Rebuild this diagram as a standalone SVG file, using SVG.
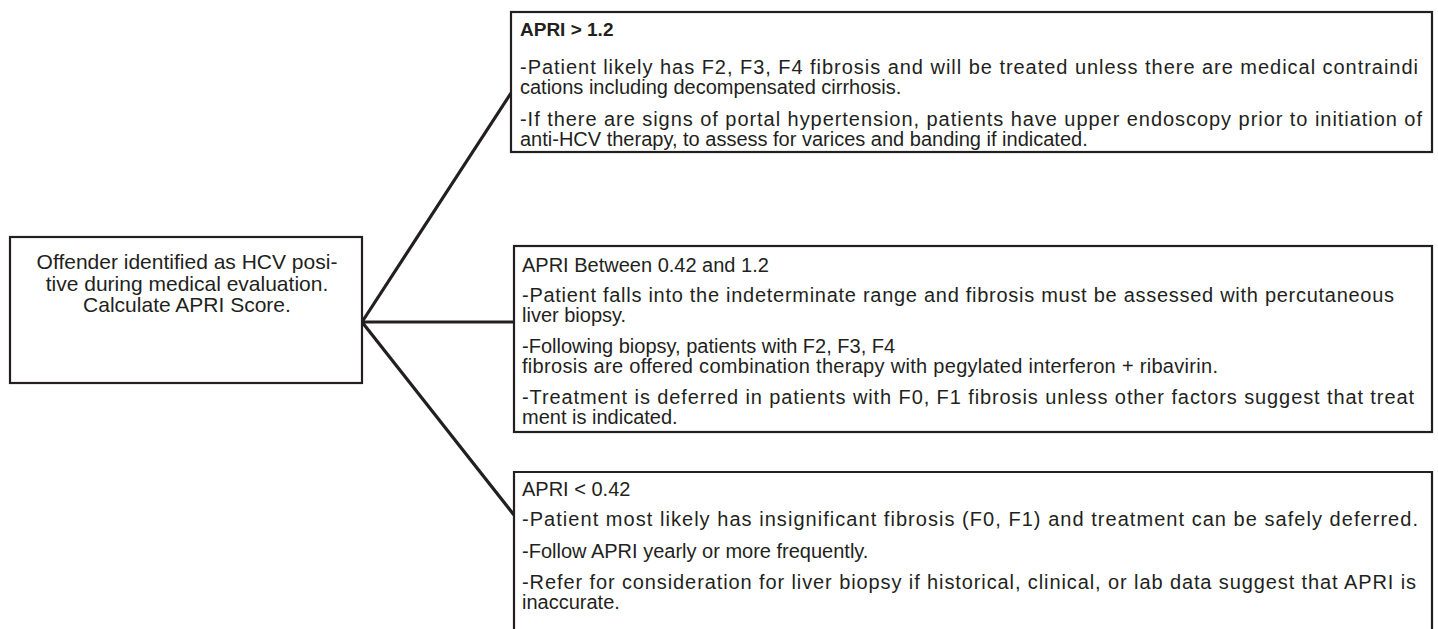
<svg xmlns="http://www.w3.org/2000/svg" width="1438" height="629" viewBox="0 0 1438 629">
<style>
.box{fill:#fff;stroke:#231f20;stroke-width:2.2}
.t{font-family:"Liberation Sans",Arial,sans-serif;font-size:20px;fill:#231f20}
.b{font-weight:bold;font-size:19px}
.c{font-family:"Liberation Sans",Arial,sans-serif;font-size:21px;fill:#231f20;text-anchor:middle}
.conn{stroke:#231f20;stroke-width:3.2;fill:none}
</style>
<rect width="1438" height="629" fill="#fff"/>
<g id="connectors">
<line class="conn" x1="362" y1="322" x2="511" y2="93"/>
<line class="conn" x1="362" y1="322" x2="514" y2="322"/>
<line class="conn" x1="362" y1="322" x2="514" y2="515"/>
</g>
<g id="start">
<rect class="box" x="10" y="237" width="352" height="146"/>
<text class="c" x="187" y="269">Offender identified as HCV posi-</text>
<text class="c" x="187" y="291">tive during medical evaluation.</text>
<text class="c" x="187" y="312">Calculate APRI Score.</text>
</g>
<g id="high">
<rect class="box" x="511" y="12" width="921" height="140"/>
<text class="t b" x="520" y="36">APRI &gt; 1.2</text>
<text class="t" x="520" y="74" textLength="898">-Patient likely has F2, F3, F4 fibrosis and will be treated unless there are medical contraindi</text>
<text class="t" x="520" y="94">cations including decompensated cirrhosis.</text>
<text class="t" x="520" y="126" textLength="902">-If there are signs of portal hypertension, patients have upper endoscopy prior to initiation of</text>
<text class="t" x="520" y="146">anti-HCV therapy, to assess for varices and banding if indicated.</text>
</g>
<g id="mid">
<rect class="box" x="514" y="246" width="918" height="186"/>
<text class="t" x="522" y="272">APRI Between 0.42 and 1.2</text>
<text class="t" x="522" y="302" textLength="872">-Patient falls into the indeterminate range and fibrosis must be assessed with percutaneous</text>
<text class="t" x="522" y="322">liver biopsy.</text>
<text class="t" x="522" y="353">-Following biopsy, patients with F2, F3, F4</text>
<text class="t" x="522" y="373" textLength="696">fibrosis are offered combination therapy with pegylated interferon + ribavirin.</text>
<text class="t" x="522" y="404" textLength="892">-Treatment is deferred in patients with F0, F1 fibrosis unless other factors suggest that treat</text>
<text class="t" x="522" y="424">ment is indicated.</text>
</g>
<g id="low">
<path class="box" d="M514,640 V472 H1432 V640"/>
<text class="t" x="522" y="496">APRI &lt; 0.42</text>
<text class="t" x="522" y="526" textLength="896">-Patient most likely has insignificant fibrosis (F0, F1) and treatment can be safely deferred.</text>
<text class="t" x="522" y="558">-Follow APRI yearly or more frequently.</text>
<text class="t" x="522" y="589" textLength="894">-Refer for consideration for liver biopsy if historical, clinical, or lab data suggest that APRI is</text>
<text class="t" x="522" y="609">inaccurate.</text>
</g>
</svg>
